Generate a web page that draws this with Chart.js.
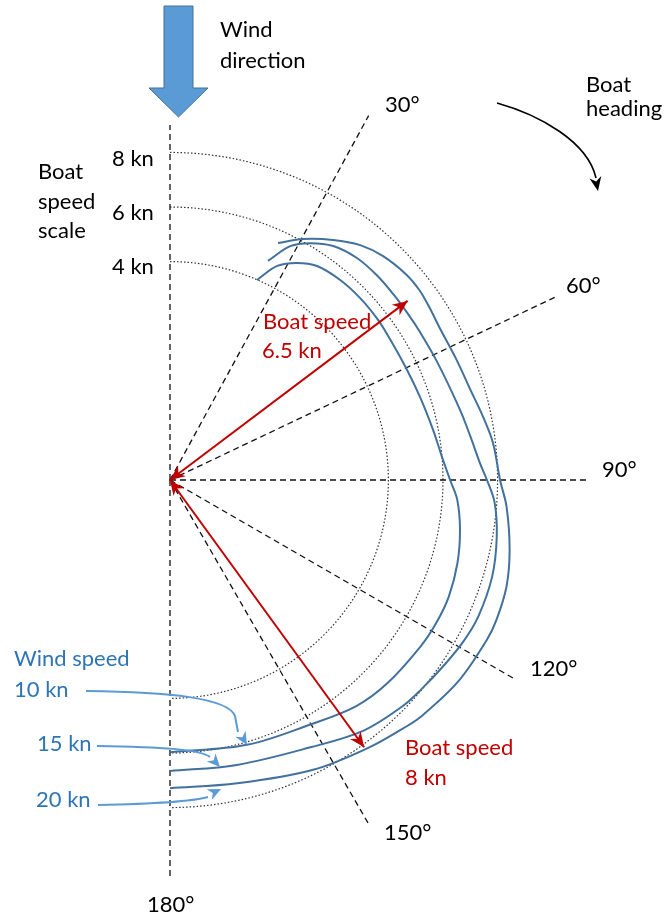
<!DOCTYPE html>
<html>
<head>
<meta charset="utf-8">
<script src="https://cdn.jsdelivr.net/npm/chart.js@4/dist/chart.umd.min.js"></script>
<style>
  html, body { margin: 0; padding: 0; background: #fff; }
  #wrap { width: 666px; height: 919px; position: relative; }
</style>
</head>
<body>
<div id="wrap"><canvas id="polar"></canvas></div>
<script>
// polar curves: true wind angle (deg) -> boat speed (kn), one pair per wind speed
const WIND_SPEEDS = [10, 15, 20];
const ANGLES_10 = [23.5, 26.6, 30.3, 34.5, 40.4, 46.2, 52, 56.3, 64.3, 71.6, 79.2, 85.2, 90, 94, 99.8, 106.1, 112.7, 118.2, 123.5, 133.1, 140.5, 150, 163.8, 180];
const SPEED_10  = [3.99, 4.77, 5.21, 5.51, 5.62, 5.64, 5.62, 5.58, 5.57, 5.65, 5.81, 6.0, 6.26, 6.55, 6.78, 6.96, 7.07, 7.07, 7.02, 6.9, 6.73, 6.33, 6.1, 5.97];
const ANGLES_15 = [24.1, 27.2, 30.6, 34.9, 40.1, 45.3, 50.3, 55.2, 59.2, 66.2, 76.4, 81.8, 86.9, 90, 94, 99.9, 106.7, 113.8, 118.7, 124, 129.8, 134.3, 142.3, 152.3, 166.8, 180];
const SPEED_15  = [4.79, 5.63, 6.08, 6.45, 6.63, 6.66, 6.64, 6.63, 6.64, 6.7, 6.93, 7.12, 7.37, 7.61, 7.92, 8.15, 8.32, 8.35, 8.27, 8.12, 7.98, 7.88, 7.6, 7.06, 6.72, 6.66];
const ANGLES_20 = [24.5, 28.9, 34.2, 39, 43.6, 49.1, 52.8, 56.5, 60.7, 67, 73.3, 78.6, 83.5, 90, 94.6, 101.6, 107.6, 113.2, 116.8, 125, 133.5, 136.8, 143.2, 153.7, 167.5, 180];
const SPEED_20  = [5.54, 6.08, 6.63, 7.07, 7.32, 7.47, 7.48, 7.41, 7.34, 7.38, 7.49, 7.7, 7.91, 8.09, 8.37, 8.7, 8.93, 9.01, 9.0, 8.88, 8.63, 8.48, 8.22, 7.84, 7.38, 7.29];

// boat speed rings
const RING_SPEEDS = [4, 6, 8];
const RING_LABELS = ['4 kn', '6 kn', '8 kn'];

// heading guide lines (drawn angle, reach in radius units) and their labels
const SPOKE_ANGLES = [0, 28.6, 64.6, 90, 120, 150, 180];
const SPOKE_REACH  = [13.0, 15.2, 15.6, 15.3, 14.6, 14.6, 14.65];
const SPOKE_LABELS = ['', '30°', '60°', '90°', '120°', '150°', '180°'];

// example boat speed arrows
const ARROW_ANGLES = [53, 144];
const ARROW_SPEEDS = [6.9, 8.1];
const ARROW_LABELS = ['6.5 kn', '8 kn'];

const SPEED_OFFSET = 4;   // centre of the diagram sits at -4 kn
const PX = 27.3;          // pixels per knot
const CX = 170, CY = 480; // where the centre lands on the page

function radial(angle, r) {
  const a = angle * Math.PI / 180;
  return { x: r * Math.sin(a), y: r * Math.cos(a) };
}
function polar(angle, speed) {
  return radial(angle, speed + SPEED_OFFSET);
}

var datasets = [];

RING_SPEEDS.forEach(function (s) {
  var pts = [];
  for (var a = 0; a <= 180; a += 2) pts.push(polar(a, s));
  datasets.push({ data: pts, borderColor: '#333', borderWidth: 1.2, borderDash: [1.5, 2], order: 4 });
});

SPOKE_ANGLES.forEach(function (a, i) {
  datasets.push({ data: [{ x: 0, y: 0 }, radial(a, SPOKE_REACH[i])], borderColor: '#111', borderWidth: 1.3, borderDash: [6, 4], order: 3 });
});

var curveAngles = [ANGLES_10, ANGLES_15, ANGLES_20];
var curveSpeeds = [SPEED_10, SPEED_15, SPEED_20];
WIND_SPEEDS.forEach(function (w, k) {
  datasets.push({
    label: w + ' kn',
    data: curveAngles[k].map(function (a, i) { return polar(a, curveSpeeds[k][i]); }),
    borderColor: '#41719C', borderWidth: 2, tension: 0.35, order: 2
  });
});

ARROW_ANGLES.forEach(function (a, i) {
  datasets.push({ data: [{ x: 0, y: 0 }, polar(a, ARROW_SPEEDS[i])], borderColor: '#C00000', borderWidth: 2, order: 1 });
});

function head(ctx, fx, fy, tx, ty, len, wid, color) {
  var dx = tx - fx, dy = ty - fy, d = Math.hypot(dx, dy);
  var ux = dx / d, uy = dy / d, px = -uy, py = ux;
  var bx = tx - ux * len, by = ty - uy * len;
  ctx.beginPath();
  ctx.moveTo(tx, ty);
  ctx.lineTo(bx + px * wid / 2, by + py * wid / 2);
  ctx.lineTo(tx - ux * len * 0.7, ty - uy * len * 0.7);
  ctx.lineTo(bx - px * wid / 2, by - py * wid / 2);
  ctx.closePath();
  ctx.fillStyle = color;
  ctx.fill();
}

const notes = {
  id: 'notes',
  afterDatasetsDraw: function (chart) {
    var ctx = chart.ctx, xs = chart.scales.x, ys = chart.scales.y;
    function pix(p) { return { x: xs.getPixelForValue(p.x), y: ys.getPixelForValue(p.y) }; }
    ctx.save();

    // arrowheads on both ends of the red speed arrows
    ARROW_ANGLES.forEach(function (a, i) {
      var o = pix({ x: 0, y: 0 }), t = pix(polar(a, ARROW_SPEEDS[i]));
      head(ctx, o.x, o.y, t.x, t.y, 15, 13, '#C00000');
      head(ctx, t.x, t.y, o.x, o.y, 15, 13, '#C00000');
    });

    // wind direction block arrow
    ctx.beginPath();
    ctx.moveTo(164, 6); ctx.lineTo(193, 6); ctx.lineTo(193, 88); ctx.lineTo(208, 88);
    ctx.lineTo(178.5, 117); ctx.lineTo(149, 88); ctx.lineTo(164, 88); ctx.closePath();
    ctx.fillStyle = '#5B9BD5'; ctx.fill();
    ctx.strokeStyle = '#41719C'; ctx.lineWidth = 1; ctx.stroke();

    // boat heading curved arrow
    ctx.beginPath();
    ctx.moveTo(497, 103);
    ctx.bezierCurveTo(540, 115, 588, 142, 596, 178);
    ctx.strokeStyle = '#000'; ctx.lineWidth = 1.6; ctx.stroke();
    head(ctx, 593, 165, 598, 191, 14, 12, '#000');

    // wind speed callouts
    ctx.strokeStyle = '#5B9BD5'; ctx.lineWidth = 2;
    ctx.beginPath(); ctx.moveTo(86, 691);
    ctx.bezierCurveTo(170, 692, 228, 698, 235, 716); ctx.lineTo(238, 732); ctx.stroke();
    head(ctx, 237, 728, 247, 745, 13, 12, '#5B9BD5');
    ctx.beginPath(); ctx.moveTo(97, 746);
    ctx.bezierCurveTo(160, 747, 200, 749, 210, 757); ctx.stroke();
    head(ctx, 206, 752, 220, 767, 13, 12, '#5B9BD5');
    ctx.beginPath(); ctx.moveTo(98, 805);
    ctx.bezierCurveTo(150, 804, 190, 802, 208, 797); ctx.stroke();
    head(ctx, 200, 799, 221, 789, 13, 12, '#5B9BD5');

    // text
    ctx.font = '22px Lato';
    ctx.textBaseline = 'alphabetic';
    ctx.textAlign = 'left';
    ctx.fillStyle = '#000';
    ctx.fillText('Wind', 220, 37);
    ctx.fillText('direction', 220, 68);
    ctx.fillText('Boat', 586, 92);
    ctx.fillText('heading', 586, 116);
    ctx.fillText('Boat', 38, 179);
    ctx.fillText('speed', 38, 209);
    ctx.fillText('scale', 38, 238);

    var ringBase = [274, 220, 166];
    RING_LABELS.forEach(function (t, i) { ctx.fillText(t, 112, ringBase[i]); });

    var spokeText = [null, [385, 112], [566, 293], [602, 477], [530, 676], [384, 840], [147, 912]];
    SPOKE_LABELS.forEach(function (t, i) { if (t) ctx.fillText(t, spokeText[i][0], spokeText[i][1]); });

    ctx.fillStyle = '#C00000';
    ctx.fillText('Boat speed', 263, 329);
    ctx.fillText(ARROW_LABELS[0], 262, 358);
    ctx.fillText('Boat speed', 405, 755);
    ctx.fillText(ARROW_LABELS[1], 405, 785);

    ctx.fillStyle = '#2E75B6';
    ctx.fillText('Wind speed', 14, 666);
    ctx.fillText(WIND_SPEEDS[0] + ' kn', 14, 697);
    ctx.fillText(WIND_SPEEDS[1] + ' kn', 37, 751);
    ctx.fillText(WIND_SPEEDS[2] + ' kn', 36, 807);

    ctx.restore();
  }
};

new Chart(document.getElementById('polar'), {
  type: 'scatter',
  data: { datasets: datasets },
  options: {
    responsive: true,
    maintainAspectRatio: false,
    animation: false,
    layout: { padding: 0 },
    datasets: { scatter: { showLine: true, pointRadius: 0, fill: false } },
    scales: {
      x: { display: false, min: -CX / PX, max: (666 - CX) / PX },
      y: { display: false, min: -(919 - CY) / PX, max: CY / PX }
    },
    plugins: { legend: { display: false }, tooltip: { enabled: false } }
  },
  plugins: [notes]
});
</script>
</body>
</html>
